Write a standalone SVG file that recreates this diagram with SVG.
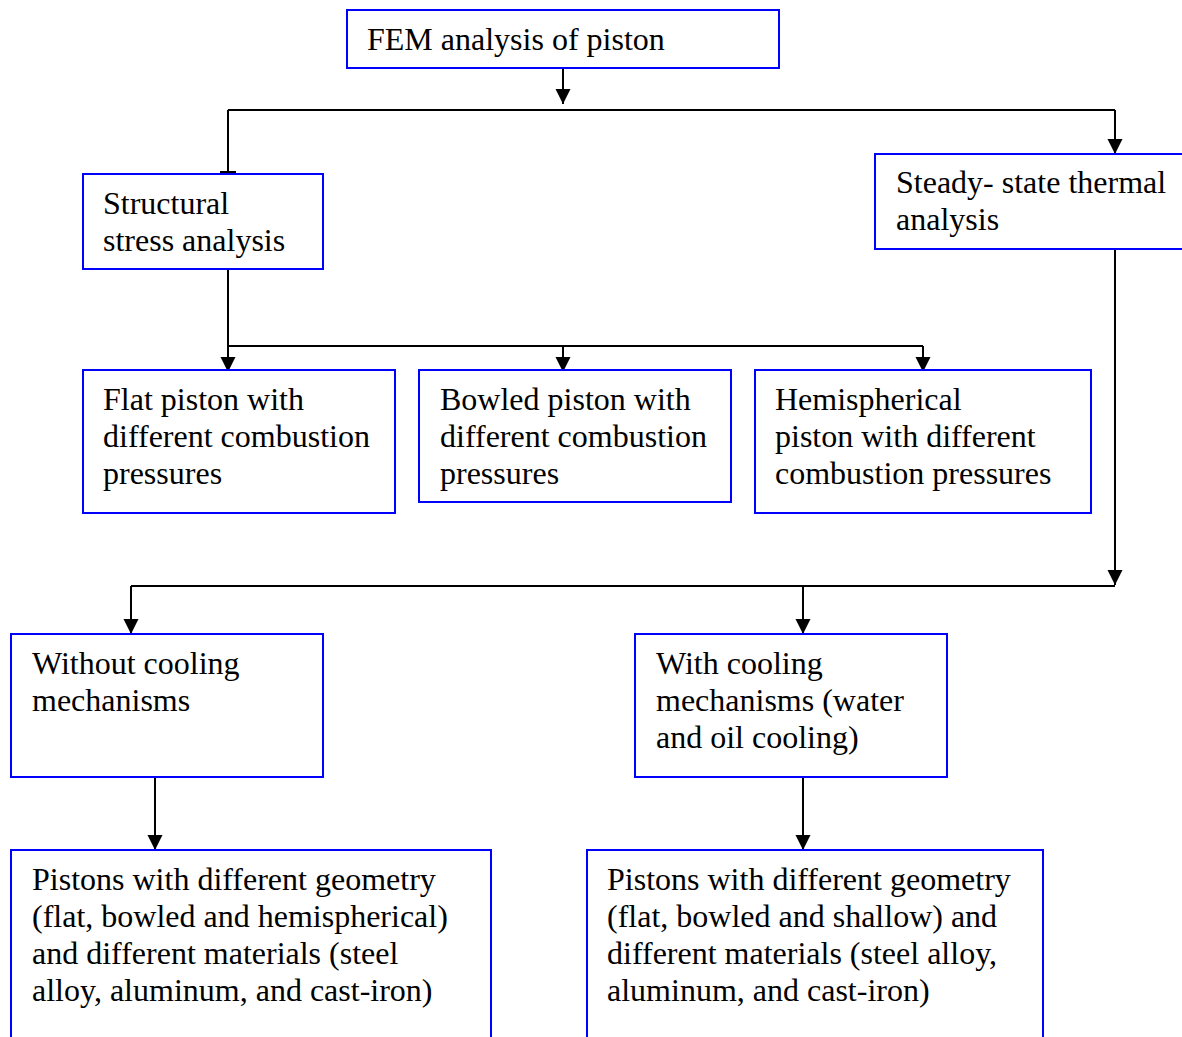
<svg xmlns="http://www.w3.org/2000/svg" width="1182" height="1037" viewBox="0 0 1182 1037">
<defs>
<style>
.box{fill:#ffffff;stroke:#0000ff;stroke-width:2}
.lbl{font-family:"Liberation Serif","Times New Roman",serif;font-size:32px;fill:#000000}
.con{fill:none;stroke:#000000;stroke-width:2}
.arr{marker-end:url(#ah)}
</style>
<marker id="ah" markerUnits="userSpaceOnUse" markerWidth="16" markerHeight="16" refX="15" refY="8" orient="auto" viewBox="0 0 16 16">
<path d="M0,0.5 L15,8 L0,15.5 z" fill="#000000"/>
</marker>
</defs>
<rect width="1182" height="1037" fill="#ffffff"/>

<g id="connectors">
<path class="con arr" d="M563,68 V104"/>
<path class="con" d="M228,110 H1115"/>
<path class="con" d="M228,110 V172"/>
<path class="con" d="M220,172 H236"/>
<path class="con arr" d="M1115,110 V154"/>
<path class="con arr" d="M228,270 V372"/>
<path class="con" d="M228,346 H923"/>
<path class="con arr" d="M563,346 V372"/>
<path class="con arr" d="M923,346 V372"/>
<path class="con arr" d="M1115,249 V585"/>
<path class="con" d="M131,586 H1115"/>
<path class="con arr" d="M131,586 V634"/>
<path class="con arr" d="M803,586 V634"/>
<path class="con arr" d="M155,778 V850"/>
<path class="con arr" d="M803,778 V850"/>
</g>

<g id="node-fem">
<rect class="box" x="347" y="10" width="432" height="58"/>
<text class="lbl" x="367" y="50">FEM analysis of piston</text>
</g>

<g id="node-structural">
<rect class="box" x="83" y="174" width="240" height="95"/>
<text class="lbl" x="103" y="214">Structural</text>
<text class="lbl" x="103" y="251">stress analysis</text>
</g>

<g id="node-thermal">
<rect class="box" x="875" y="154" width="320" height="95"/>
<text class="lbl" x="896" y="193">Steady- state thermal</text>
<text class="lbl" x="896" y="230">analysis</text>
</g>

<g id="node-flat">
<rect class="box" x="83" y="370" width="312" height="143"/>
<text class="lbl" x="103" y="410">Flat piston with</text>
<text class="lbl" x="103" y="447">different combustion</text>
<text class="lbl" x="103" y="484">pressures</text>
</g>

<g id="node-bowled">
<rect class="box" x="419" y="370" width="312" height="132"/>
<text class="lbl" x="440" y="410">Bowled piston with</text>
<text class="lbl" x="440" y="447">different combustion</text>
<text class="lbl" x="440" y="484">pressures</text>
</g>

<g id="node-hemi">
<rect class="box" x="755" y="370" width="336" height="143"/>
<text class="lbl" x="775" y="410">Hemispherical</text>
<text class="lbl" x="775" y="447">piston with different</text>
<text class="lbl" x="775" y="484">combustion pressures</text>
</g>

<g id="node-without">
<rect class="box" x="11" y="634" width="312" height="143"/>
<text class="lbl" x="32" y="674">Without cooling</text>
<text class="lbl" x="32" y="711">mechanisms</text>
</g>

<g id="node-with">
<rect class="box" x="635" y="634" width="312" height="143"/>
<text class="lbl" x="656" y="674">With cooling</text>
<text class="lbl" x="656" y="711">mechanisms (water</text>
<text class="lbl" x="656" y="748">and oil cooling)</text>
</g>

<g id="node-geom-left">
<rect class="box" x="11" y="850" width="480" height="200"/>
<text class="lbl" x="32" y="890">Pistons with different geometry</text>
<text class="lbl" x="32" y="927">(flat, bowled and hemispherical)</text>
<text class="lbl" x="32" y="964">and different materials (steel</text>
<text class="lbl" x="32" y="1001">alloy, aluminum, and cast-iron)</text>
</g>

<g id="node-geom-right">
<rect class="box" x="587" y="850" width="456" height="200"/>
<text class="lbl" x="607" y="890">Pistons with different geometry</text>
<text class="lbl" x="607" y="927">(flat, bowled and shallow) and</text>
<text class="lbl" x="607" y="964">different materials (steel alloy,</text>
<text class="lbl" x="607" y="1001">aluminum, and cast-iron)</text>
</g>
</svg>
